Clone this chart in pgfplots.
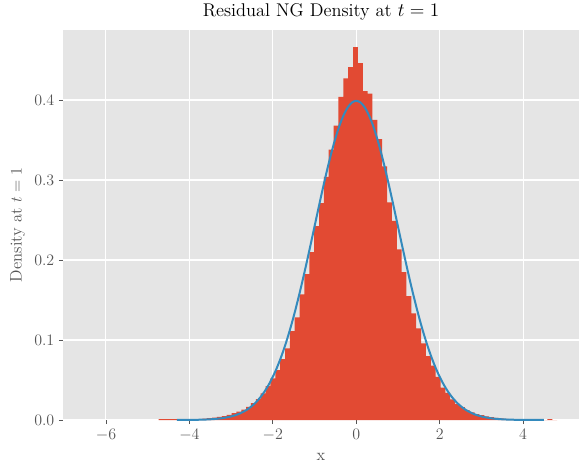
\documentclass[border=0pt]{standalone}
\usepackage{pgfplots}
\pgfplotsset{compat=1.18}
\definecolor{bggray}{HTML}{E5E5E5}
\definecolor{tickgray}{HTML}{555555}
\definecolor{histred}{HTML}{E24A33}
\definecolor{lineblue}{HTML}{348ABD}
\begin{document}
\begin{tikzpicture}
\useasboundingbox (-47.25pt,-36pt) rectangle (387.75pt,315pt);
\begin{axis}[
  anchor=south west, at={(0,0)},
  scale only axis,
  width=387pt, height=292.5pt,
  xmin=-7.03, xmax=5.34, ymin=0, ymax=0.4875,
  axis background/.style={fill=bggray},
  axis line style={draw=none},
  grid=major,
  major grid style={white, line width=0.8pt},
  xtick={-6,-4,-2,0,2,4},
  ytick={0,0.1,0.2,0.3,0.4},
  yticklabel style={/pgf/number format/fixed, /pgf/number format/precision=1, /pgf/number format/fixed zerofill},
  tick align=outside,
  xtick pos=bottom, ytick pos=left,
  major tick length=3pt,
  tick style={color=tickgray, line width=0.6pt},
  ticklabel style={font=\fontsize{11.5}{13}\selectfont, text=tickgray},
  title={Residual NG Density at $t=1$},
  title style={font=\fontsize{13.8}{16}\selectfont, yshift=-2pt},
  xlabel={x},
  ylabel={Density at $t=1$},
  label style={font=\fontsize{12.5}{14}\selectfont, text=tickgray},
  xlabel style={yshift=-3pt},
]
\addplot[const plot, fill=histred, draw=none] coordinates {
(-4.737,0.001) (-4.6205,0.001) (-4.504,0.001) (-4.3875,0.001)
(-4.271,0.0005) (-4.1545,0.0005) (-4.038,0.0007) (-3.9215,0.0009)
(-3.805,0.0012) (-3.6885,0.0016) (-3.572,0.0022) (-3.4555,0.003)
(-3.339,0.004) (-3.2225,0.005) (-3.106,0.0065) (-2.9895,0.0085)
(-2.873,0.0105) (-2.7565,0.013) (-2.64,0.0165) (-2.5235,0.021)
(-2.407,0.026) (-2.2905,0.0334) (-2.174,0.0425) (-2.0575,0.052)
(-1.941,0.0625) (-1.8245,0.076) (-1.708,0.0896) (-1.5915,0.111)
(-1.475,0.1284) (-1.3585,0.157) (-1.242,0.1825) (-1.1255,0.2098)
(-1.009,0.2425) (-0.8925,0.271) (-0.776,0.304) (-0.6595,0.338)
(-0.543,0.368) (-0.4265,0.404) (-0.31,0.427) (-0.1935,0.441)
(-0.077,0.466) (0.0395,0.446) (0.156,0.411) (0.2725,0.408)
(0.389,0.375) (0.5055,0.351) (0.622,0.317) (0.7385,0.272)
(0.855,0.249) (0.9715,0.2134) (1.088,0.1847) (1.2045,0.155)
(1.321,0.1333) (1.4375,0.1146) (1.554,0.0958) (1.6705,0.08)
(1.787,0.068) (1.9035,0.054) (2.02,0.0404) (2.1365,0.034)
(2.253,0.0258) (2.3695,0.02) (2.486,0.016) (2.6025,0.0125)
(2.719,0.0095) (2.8355,0.0075) (2.952,0.006) (3.0685,0.0045)
(3.185,0.0035) (3.3015,0.0027) (3.418,0.002) (3.5345,0.0015)
(3.651,0.0011) (3.7675,0.0008) (3.884,0.0006) (4.0005,0.0005)
(4.117,0.0004) (4.2335,0.0003) (4.35,0.001) (4.4665,0)
(4.583,0.001) (4.6995,0) (4.816,0)
} \closedcycle;
\addplot[lineblue, line width=1.5pt, smooth] coordinates {
(-4.3,0.00004) (-4.0,0.00013) (-3.8,0.00029) (-3.6,0.00061) (-3.4,0.00123)
(-3.2,0.00238) (-3.0,0.00443) (-2.9,0.00595) (-2.8,0.00792) (-2.7,0.01042)
(-2.6,0.01358) (-2.5,0.01753) (-2.4,0.02239) (-2.3,0.02833) (-2.2,0.03547)
(-2.1,0.04398) (-2.0,0.05399) (-1.9,0.06562) (-1.8,0.07895) (-1.7,0.09405)
(-1.6,0.11092) (-1.5,0.12952) (-1.4,0.14973) (-1.3,0.17137) (-1.2,0.19419)
(-1.1,0.21785) (-1.0,0.24197) (-0.9,0.26609) (-0.8,0.28969) (-0.7,0.31225)
(-0.6,0.33322) (-0.5,0.35207) (-0.4,0.36827) (-0.3,0.38139) (-0.2,0.39104)
(-0.1,0.39695) (0.0,0.39894) (0.1,0.39695) (0.2,0.39104) (0.3,0.38139)
(0.4,0.36827) (0.5,0.35207) (0.6,0.33322) (0.7,0.31225) (0.8,0.28969)
(0.9,0.26609) (1.0,0.24197) (1.1,0.21785) (1.2,0.19419) (1.3,0.17137)
(1.4,0.14973) (1.5,0.12952) (1.6,0.11092) (1.7,0.09405) (1.8,0.07895)
(1.9,0.06562) (2.0,0.05399) (2.1,0.04398) (2.2,0.03547) (2.3,0.02833)
(2.4,0.02239) (2.5,0.01753) (2.6,0.01358) (2.7,0.01042) (2.8,0.00792)
(2.9,0.00595) (3.0,0.00443) (3.2,0.00238) (3.4,0.00123) (3.6,0.00061)
(3.8,0.00029) (4.0,0.00013) (4.3,0.00004) (4.5,0.00002)
};
\end{axis}
\end{tikzpicture}
\end{document}
